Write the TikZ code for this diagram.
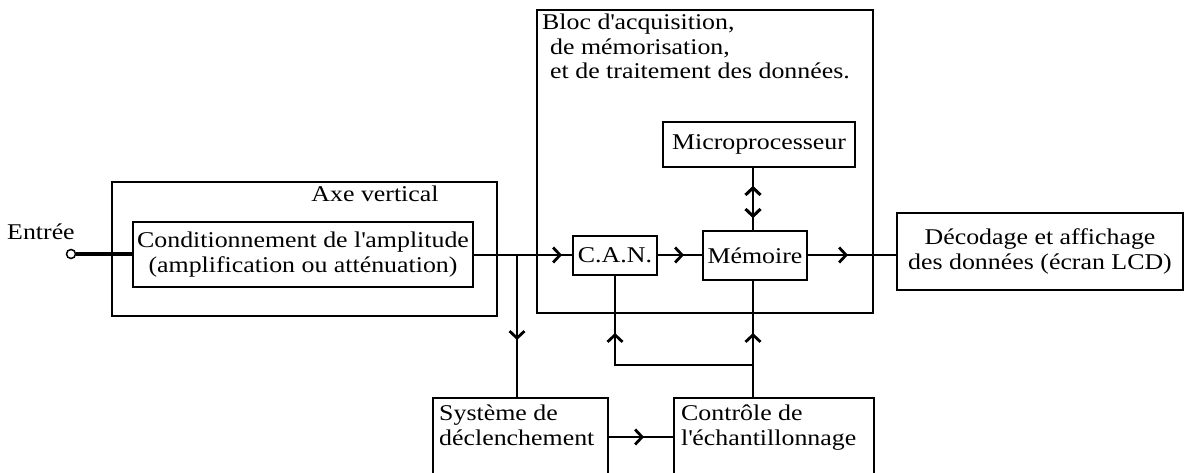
\documentclass[tikz,border=0pt]{standalone}
\usepackage{fontspec}
\setmainfont{Liberation Serif}[FakeStretch=1.15]
\usetikzlibrary{arrows.meta,decorations.markings}

\tikzset{
  chev/.tip={Straight Barb[length=7pt,width=15pt,line width'=2.8pt]},
  box/.style={draw, line width=2pt, inner sep=0pt, align=center},
  wire/.style={line width=2pt},
  flow/.style={wire, postaction={decorate},
    decoration={markings, mark=at position #1 with {\arrow{chev}}}},
  backflow/.style={postaction={decorate},
    decoration={markings, mark=at position #1 with {\arrowreversed{chev}}}},
  lbl/.style={inner sep=0pt, align=left},
}

\begin{document}
\begin{tikzpicture}[x=1pt, y=-1pt, font=\fontsize{22.5}{24.5}\selectfont]
\useasboundingbox (0,0) rectangle (1185,473);
\clip (0,0) rectangle (1185,473);

% outer blocks
\node[box, minimum width=385pt, minimum height=134pt] (axe)  at (304.5,249) {};
\node[box, minimum width=336pt, minimum height=303pt] (bloc) at (705,161.5) {};

% functional blocks
\node[box, minimum width=340pt, minimum height=65pt] (cond) at (303,254.5)
  {Conditionnement de l\textquotesingle amplitude\\(amplification ou atténuation)};
\node[box, minimum width=192pt, minimum height=45pt] (micro) at (759,144.5) {Microprocesseur};
\node[box, minimum width=84pt, minimum height=39pt] (can) at (615,255.5) {C.A.N.};
\node[box, minimum width=104pt, minimum height=49pt] (mem) at (755,255.5) {Mémoire};
\node[box, minimum width=286pt, minimum height=77pt] (dec) at (1040,251.5)
  {Décodage et affichage\\des données (écran LCD)};
\node[box, minimum width=175pt, minimum height=100pt, anchor=north west] (sys) at (432,397) {};
\node[box, minimum width=200pt, minimum height=100pt, anchor=north west] (ctrl) at (673,397) {};

% block captions
\node[lbl, anchor=west] (entree) at (7,232) {Entrée};
\node[lbl] (axelbl) at (375,194) {Axe vertical};
\node[lbl, anchor=north west] (bloclbl) at (542,14)
  {Bloc d\textquotesingle acquisition,\\\hspace*{8pt}de mémorisation,\\\hspace*{8pt}et de traitement des données.};
\node[lbl, anchor=north west] (syslbl) at (439,405) {Système de\\déclenchement};
\node[lbl, anchor=north west] (ctrllbl) at (681,405) {Contrôle de\\l\textquotesingle échantillonnage};

% input terminal
\node[circle, draw, line width=1.5pt, minimum size=9pt, inner sep=0pt] (in) at (71,254) {};
\draw[line width=3.5pt] (in.east) -- (cond.west |- in.east);

% signal path
\coordinate (br) at (517,255);
\coordinate (bus) at (753,0);
\coordinate (jn) at (753,365);
\coordinate (trig) at (0,437);
\draw[flow=88pt] (cond.east |- br) -- (can.west |- br);
\draw[flow=85pt] (br) -- (br |- sys.north);
\draw[flow=26pt] (can.east |- br) -- (mem.west |- br);
\draw[flow=40pt] (mem.east |- br) -- (dec.west |- br);
\draw[flow=50pt, backflow=18pt] (bus |- micro.south) -- (bus |- mem.north);
\draw[flow=64pt] (bus |- ctrl.north) -- (bus |- mem.south);
\draw[flow=170pt] (jn) -- (can.south |- jn) -- (can.south);
\draw[flow=35pt] (sys.east |- trig) -- (ctrl.west |- trig);
\end{tikzpicture}
\end{document}
